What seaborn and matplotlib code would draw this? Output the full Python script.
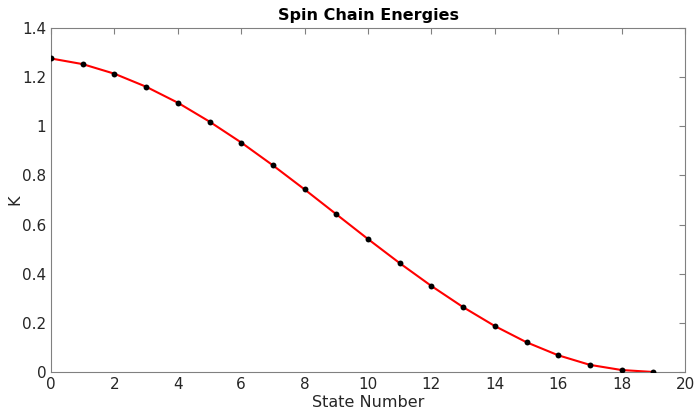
import matplotlib
matplotlib.use("Agg")
import matplotlib.pyplot as plt
import seaborn as sns
import pandas as pd

state = list(range(20))
energy = [1.276, 1.253, 1.214, 1.161, 1.096, 1.019, 0.934, 0.841, 0.743, 0.642,
          0.541, 0.443, 0.350, 0.264, 0.187, 0.121, 0.068, 0.029, 0.008, 0.0]
xticks = [0, 2, 4, 6, 8, 10, 12, 14, 16, 18, 20]
yticks = [0, 0.2, 0.4, 0.6, 0.8, 1.0, 1.2, 1.4]
yticklabels = ["0", "0.2", "0.4", "0.6", "0.8", "1", "1.2", "1.4"]

df = pd.DataFrame({"State Number": state, "K": energy})

sns.set_style("white")
plt.rcParams['font.family'] = ['DejaVu Sans']

fig = plt.figure(figsize=(6.97, 4.12), dpi=100)
ax = fig.add_axes([0.0732, 0.0971, 0.9096, 0.8349])

sns.lineplot(data=df, x="State Number", y="K", ax=ax, color="red", linewidth=1.5)
sns.scatterplot(data=df, x="State Number", y="K", ax=ax, color="black", s=18,
                edgecolor="black", linewidth=0, zorder=3)

ax.set_xlim(0, 20)
ax.set_ylim(0, 1.4)
ax.set_xticks(xticks)
ax.set_yticks(yticks)
ax.set_yticklabels(yticklabels)
ax.tick_params(direction="in", length=4, color="#808080", labelsize=11,
               labelcolor="#262626", top=True, right=True, labeltop=False, labelright=False)
for s in ax.spines.values():
    s.set_color("#808080")
    s.set_linewidth(0.8)
ax.set_xlabel("State Number", fontsize=11.5, color="#262626", labelpad=2)
ax.set_ylabel("K", fontsize=11.5, color="#262626", labelpad=0)
ax.set_title("Spin Chain Energies", fontsize=11.5, fontweight="bold", color="black", pad=6)

fig.savefig("out.png", dpi=100)
